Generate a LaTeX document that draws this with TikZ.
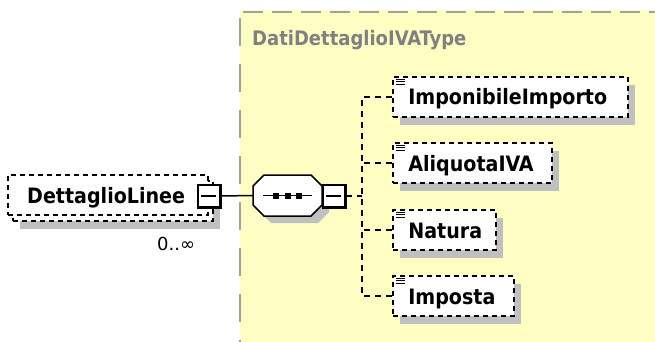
\documentclass[tikz,border=0pt]{standalone}
\usepackage{fontspec}
\setmainfont{DejaVu Sans}
\newfontfamily\condfont{DejaVu Sans Condensed}
\usetikzlibrary{shadows,calc}
\definecolor{yellowbg}{RGB}{255,255,196}
\definecolor{shadowgray}{RGB}{192,192,192}
\definecolor{bordergray}{RGB}{160,160,160}
\definecolor{titlegray}{RGB}{128,128,128}
\begin{document}
\begin{tikzpicture}[x=1pt,y=-1pt,
  elem/.style={draw=black, line width=1.7pt, dash pattern=on 5pt off 4pt, fill=white, inner sep=0pt, minimum height=40pt},
  elemshadow/.style={drop shadow={shadow xshift=7pt, shadow yshift=-8pt, fill=shadowgray, opacity=1}},
  ename/.style={font=\condfont\bfseries\fontsize{21.2}{22}\selectfont, inner sep=0pt, anchor=base west},
  titletext/.style={font=\condfont\bfseries\fontsize{20}{22}\selectfont, text=titlegray, inner sep=0pt, anchor=base west},
  occtext/.style={font=\fontsize{18}{20}\selectfont, inner sep=0pt, anchor=base west},
  conn/.style={line width=1.5pt, dash pattern=on 6pt off 5pt},
  solidconn/.style={line width=1.5pt},
  minusbox/.style={draw=black, line width=1.2pt, fill=white, minimum width=22pt, minimum height=22pt, inner sep=0pt},
  iconline/.style={line width=1.2pt}
]
\useasboundingbox (0,0) rectangle (655,342);
\fill[white] (0,0) rectangle (655,342);
% complex type region
\fill[yellowbg] (240,10) rectangle (655,342);
\draw[bordergray, line width=2pt, dash pattern=on 20pt off 9pt] (243,12) -- (655,12);
\draw[bordergray, line width=2pt, dash pattern=on 28pt off 18pt] (240,18) -- (240,342);
\node[titletext] (title) at (252,46) {DatiDettaglioIVAType};

% DettaglioLinee (multiple occurrences)
\fill[shadowgray] (20,189) rectangle (220,229);
\node[elem, minimum width=200pt] (backbox) at (113,201) {};
\node[elem, minimum width=200pt] (dl) at (108,195) {};
\node[ename] (dltext) at (27,203) {DettaglioLinee};
\node[minusbox] (dlsq) at (209,196) {};
\draw[line width=2.5pt] (dlsq.south west) -- (dlsq.south east) -- (dlsq.north east);
\draw[line width=1.2pt] ([xshift=4pt]dlsq.west) -- ([xshift=-5pt]dlsq.east);
\node[occtext] (occ) at (157,250) {0..∞};

% sequence compositor
\fill[shadowgray] (271,182) -- (318,182) -- (329,193) -- (329,212) -- (318,223) -- (271,223) -- (260,212) -- (260,193) -- cycle;
\draw[line width=1.5pt, fill=white] (264,175) -- (311,175) -- (322,186) -- (322,205) -- (311,216) -- (264,216) -- (253,205) -- (253,186) -- cycle;
\node[inner sep=0pt, minimum width=69pt, minimum height=41pt] (seq) at (287.5,195.5) {};
\draw[line width=1.5pt] (263,195.5) -- (312,195.5);
\foreach \sx in {276,287.5,299} {\fill[black] (\sx-3,192.5) rectangle (\sx+3,198.5);}
\node[minusbox] (seqsq) at (334,196) {};
\draw[line width=2.5pt] (seqsq.south west) -- (seqsq.south east) -- (seqsq.north east);
\draw[line width=1.2pt] ([xshift=4pt]seqsq.west) -- ([xshift=-5pt]seqsq.east);

\draw[solidconn] (dlsq.east) -- (seq.west);

% children
\node[elem, elemshadow, minimum width=235pt] (c1) at (510.5,97) {};
\node[elem, elemshadow, minimum width=159pt] (c2) at (472.5,163) {};
\node[elem, elemshadow, minimum width=103pt] (c3) at (444.5,230) {};
\node[elem, elemshadow, minimum width=121pt] (c4) at (453.5,296) {};
\foreach \c/\t in {c1/ImponibileImporto, c2/AliquotaIVA, c3/Natura, c4/Imposta} {
  \node[ename] (\c t) at ([shift={(16,8)}]\c.west) {\t};
  \foreach \dy in {3,5.5,8} {
    \draw[iconline] ([shift={(4,\dy)}]\c.north west) -- ++(9,0);
  }
}

% connectors
\coordinate (tr) at (362,196);
\draw[conn] (seqsq.east) -- (tr);
\draw[conn] (c1.west) -- (c1.west -| tr) -- (c4.west -| tr) -- (c4.west);
\draw[conn] (c2.west) -- (c2.west -| tr);
\draw[conn] (c3.west) -- (c3.west -| tr);
\end{tikzpicture}
\end{document}
